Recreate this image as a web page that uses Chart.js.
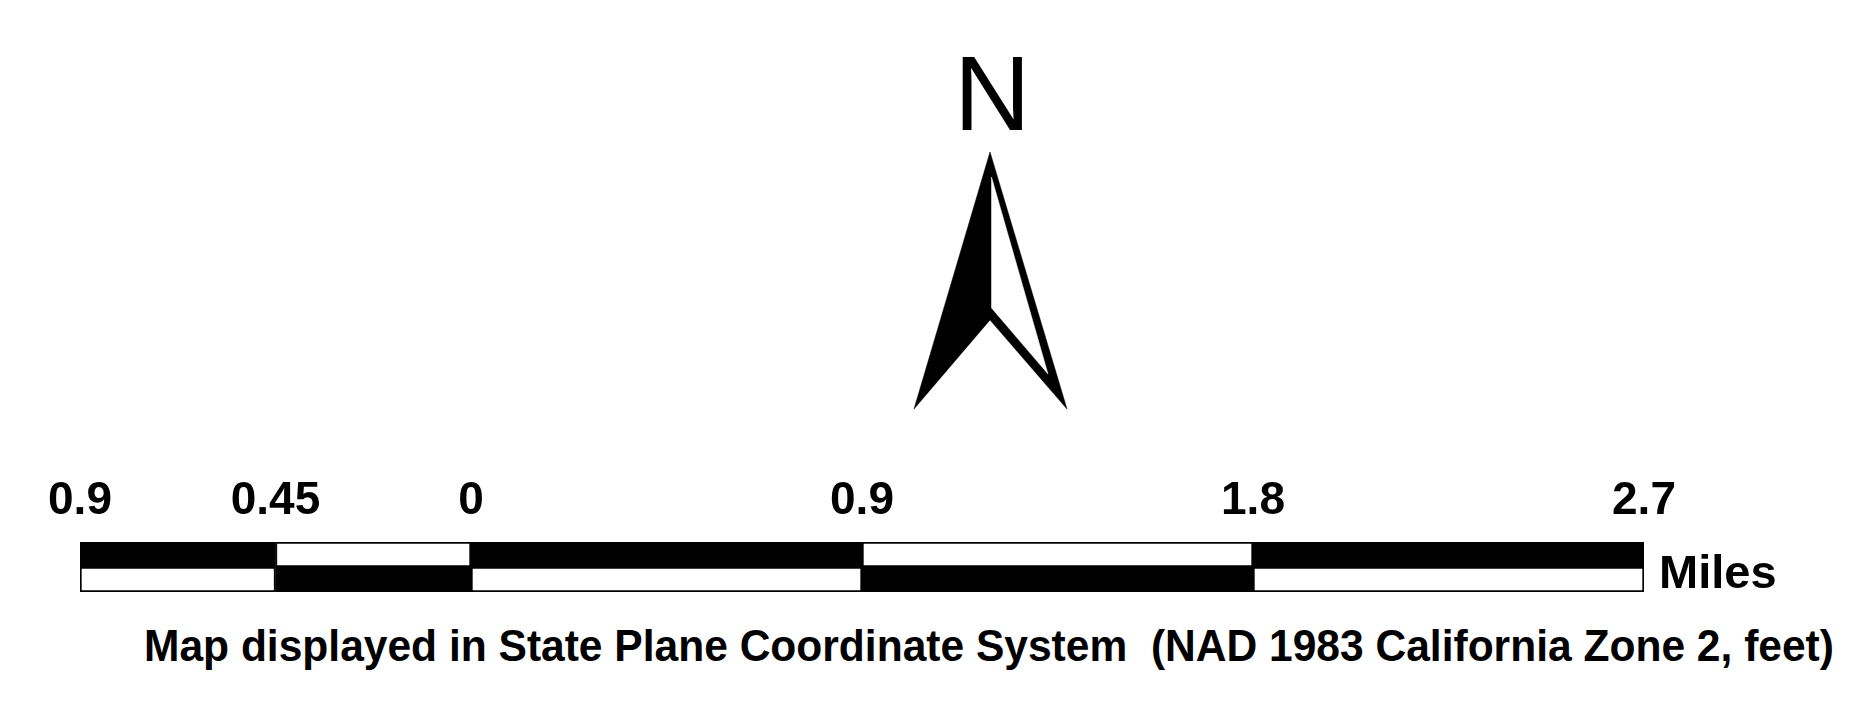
<!DOCTYPE html>
<html>
<head>
<meta charset="utf-8">
<script src="https://cdn.jsdelivr.net/npm/chart.js@4"></script>
<style>
	html, body { margin: 0; padding: 0; background: #fff; }
	#wrap { position: relative; width: 1856px; height: 701px; overflow: hidden; background: #fff; }
	canvas { position: absolute; }
	.txt { position: absolute; line-height: 1; white-space: pre; color: #000; font-family: 'Liberation Sans', Arial, sans-serif; }
	#north { left: 954px; top: 40px; font-size: 106px; }
	#units { left: 1659px; top: 548px; font-size: 47px; font-weight: bold; }
	#caption { left: 144px; top: 623px; font-size: 45px; font-weight: bold; transform-origin: 0 0; }
</style>
</head>
<body>
<div id="wrap">
	<canvas id="arrow_chart" width="160" height="265" style="left:910px; top:148px;"></canvas>
	<canvas id="scale_chart" width="1856" height="170" style="left:0; top:440px;"></canvas>
	<div class="txt" id="north">N</div>
	<div class="txt" id="units">Miles</div>
	<div class="txt" id="caption">Map displayed in State Plane Coordinate System  (NAD 1983 California Zone 2, feet)</div>
</div>
<script>
// Scale bar data (miles)
const breaks = [-0.9, -0.45, 0, 0.9, 1.8, 2.7]; // segment edges
const tickLabels = ['0.9', '0.45', '0', '0.9', '1.8', '2.7'];
const rows = ['top', 'bottom'];
const topFill = ['#000', '#fff', '#000', '#fff', '#000'];
const bottomFill = ['#fff', '#000', '#fff', '#000', '#fff'];

// North arrow (arrow units, 1 unit ~ 1px)
// outer shape: tip -> right foot -> notch -> left foot -> tip
const arrowX = [0, 77, 0, -76, 0],
	  arrowY = [257, 0, 89, 0, 257];
// hollow part of the right half
const hollowX = [1.5, 58, 1.5, 1.5],
	  hollowY = [232, 35, 101, 232];

const labelFont = { family: "'Liberation Sans', Arial, sans-serif", size: 46, weight: 'bold' };

// one dataset per segment, each spanning both rows
let segmentSets = [];
for (let k = 0; k < breaks.length - 1; k++) {
	segmentSets.push({
		data: rows.map(() => [breaks[k], breaks[k + 1]]),
		backgroundColor: [topFill[k], bottomFill[k]],
		borderColor: '#000',
		borderWidth: 2,
		borderSkipped: false,
		grouped: false,
		categoryPercentage: 1,
		barPercentage: 1
	});
}

new Chart(document.getElementById('scale_chart'), {
	type: 'bar',
	data: {
		labels: rows,
		datasets: segmentSets
	},
	options: {
		indexAxis: 'y',
		responsive: false,
		animation: false,
		layout: { padding: { left: 80, right: 212, top: 32, bottom: 18 } },
		scales: {
			x: {
				type: 'linear',
				position: 'top',
				min: breaks[0],
				max: breaks[breaks.length - 1],
				afterBuildTicks: (axis) => {
					axis.ticks = breaks.map((v) => ({ value: v }));
				},
				afterFit: (axis) => {
					axis.height = 70; // keeps the bar top at a fixed spot
				},
				grid: { display: false, drawTicks: false },
				border: { display: false },
				ticks: {
					autoSkip: false,
					maxRotation: 0,
					padding: 13,
					color: '#000',
					font: labelFont,
					callback: (value, i) => tickLabels[i]
				}
			},
			y: {
				display: false
			}
		},
		plugins: {
			legend: { display: false },
			tooltip: { enabled: false }
		}
	}
});

// North arrow: solid outline shape, with the right half hollowed out
const toPoints = (xs, ys) => xs.map((x, i) => ({ x: x, y: ys[i] }));
new Chart(document.getElementById('arrow_chart'), {
	type: 'scatter',
	data: {
		datasets: [
			{ // drawn last, sits on top
				data: toPoints(hollowX, hollowY),
				showLine: true,
				fill: 'shape',
				backgroundColor: '#fff',
				borderColor: '#fff',
				borderWidth: 0.5,
				pointRadius: 0,
				clip: false
			}, {
				data: toPoints(arrowX, arrowY),
				showLine: true,
				fill: 'shape',
				backgroundColor: '#000',
				borderColor: '#000',
				borderWidth: 0.5,
				pointRadius: 0,
				clip: false
			}
		]
	},
	options: {
		responsive: false,
		animation: false,
		layout: { padding: 0 },
		scales: {
			x: { type: 'linear', min: -80, max: 80, display: false },
			y: { type: 'linear', min: -4, max: 261, display: false }
		},
		plugins: {
			legend: { display: false },
			tooltip: { enabled: false }
		}
	}
});

// stretch the caption to the width it has in the map layout
const cap = document.getElementById('caption');
cap.style.transform = `scaleX(${1690 / cap.offsetWidth})`;
</script>
</body>
</html>
